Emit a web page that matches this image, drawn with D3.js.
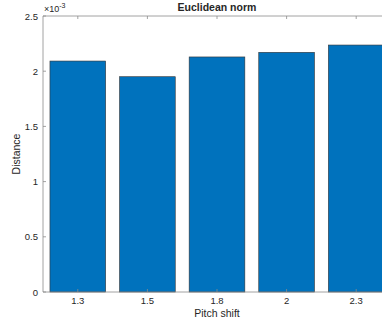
<!DOCTYPE html>
<html>
<head>
<meta charset="utf-8">
<script src="https://d3js.org/d3.v7.min.js"></script>
<style>
  body { margin: 0; background: #fff; }
  text { font-family: "Liberation Sans", Arial, sans-serif; fill: #262626; }
</style>
</head>
<body>
<svg width="382" height="320"></svg>
<script>
// data (values in units of 1e-3)
const categories = ["1.3", "1.5", "1.8", "2", "2.3"];
const distances = [2.092, 1.950, 2.129, 2.171, 2.237];
const yTicks = [0, 0.5, 1, 1.5, 2, 2.5];
const yTickLabels = ["0", "0.5", "1", "1.5", "2", "2.5"];

const svg = d3.select("svg");
const plotLeft = 43, plotTop = 16, plotW = 348, plotH = 276;

const x = d3.scaleBand().domain(categories).range([plotLeft, plotLeft + plotW]).paddingInner(0.2).paddingOuter(0.1);
const y = d3.scaleLinear().domain([0, 2.5]).range([plotTop + plotH, plotTop]);

const axisColor = "#8c8c8c";

// bars
svg.selectAll("rect.bar")
  .data(distances)
  .enter()
  .append("rect")
  .attr("class", "bar")
  .attr("x", (d, i) => x(categories[i]))
  .attr("y", d => y(d))
  .attr("width", x.bandwidth())
  .attr("height", d => y(0) - y(d))
  .attr("fill", "#0072BD")
  .attr("stroke", "#333")
  .attr("stroke-width", 0.6);

// box lines
svg.append("line").attr("x1", plotLeft).attr("x2", plotLeft + plotW).attr("y1", plotTop).attr("y2", plotTop)
  .attr("stroke", axisColor).attr("stroke-width", 0.8);
svg.append("line").attr("x1", plotLeft).attr("x2", plotLeft + plotW).attr("y1", plotTop + plotH).attr("y2", plotTop + plotH)
  .attr("stroke", axisColor).attr("stroke-width", 0.8);
svg.append("line").attr("x1", plotLeft).attr("x2", plotLeft).attr("y1", plotTop).attr("y2", plotTop + plotH)
  .attr("stroke", axisColor).attr("stroke-width", 0.8);

// x ticks (inward, bottom and top)
categories.forEach(c => {
  const cx = x(c) + x.bandwidth() / 2;
  svg.append("line").attr("x1", cx).attr("x2", cx).attr("y1", plotTop + plotH).attr("y2", plotTop + plotH - 3)
    .attr("stroke", axisColor).attr("stroke-width", 0.8);
  svg.append("line").attr("x1", cx).attr("x2", cx).attr("y1", plotTop).attr("y2", plotTop + 3)
    .attr("stroke", axisColor).attr("stroke-width", 0.8);
  svg.append("text").attr("x", cx).attr("y", plotTop + plotH + 12)
    .attr("text-anchor", "middle").attr("font-size", "9.5px").text(c);
});

// y ticks
yTicks.forEach((t, i) => {
  svg.append("line").attr("x1", plotLeft).attr("x2", plotLeft + 3).attr("y1", y(t)).attr("y2", y(t))
    .attr("stroke", axisColor).attr("stroke-width", 0.8);
  svg.append("text").attr("x", plotLeft - 5).attr("y", y(t) + 3.5)
    .attr("text-anchor", "end").attr("font-size", "9.5px").text(yTickLabels[i]);
});

// exponent label
const expo = svg.append("text").attr("x", plotLeft + 1).attr("y", plotTop - 4).attr("font-size", "9px");
expo.append("tspan").text("\u00d710");
expo.append("tspan").attr("dy", -4).attr("font-size", "7px").text("-3");

// title and axis labels
svg.append("text").attr("x", plotLeft + plotW / 2).attr("y", plotTop - 5)
  .attr("text-anchor", "middle").attr("font-size", "10.5px").attr("font-weight", "bold")
  .attr("fill", "#000").text("Euclidean norm");
svg.append("text").attr("x", plotLeft + plotW / 2).attr("y", plotTop + plotH + 25)
  .attr("text-anchor", "middle").attr("font-size", "10.5px").text("Pitch shift");
svg.append("text").attr("transform", `translate(20,${plotTop + plotH / 2}) rotate(-90)`)
  .attr("text-anchor", "middle").attr("font-size", "10.5px").text("Distance");
</script>
</body>
</html>
